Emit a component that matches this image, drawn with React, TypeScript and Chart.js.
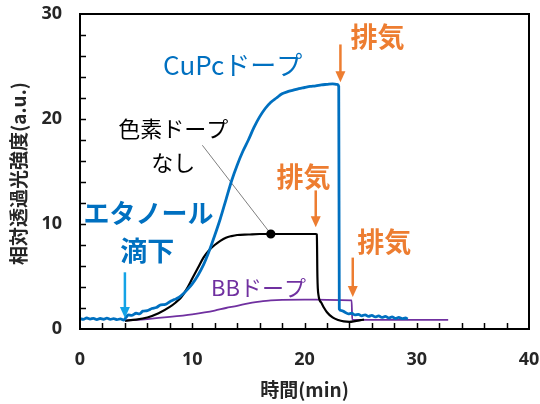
import { useEffect, useRef } from 'react';
import { Chart, registerables } from 'chart.js';

Chart.register(...registerables);

// ---- axis ranges / ticks ----
const xRange = [0, 40];
const yRange = [0, 30];
const xLabelTicks = [0, 10, 20, 30, 40];
const yLabelTicks = [0, 10, 20, 30];
const minorStep = 2;

// ---- series: [time(min), relative transmitted intensity(a.u.)] ----
const cupcSeries: number[][] = [
  [0, 1.0], [0.3, 0.92], [0.6, 1.05], [0.9, 0.95], [1.2, 1.02], [1.5, 0.9], [1.8, 1.0],
  [2.1, 0.93], [2.4, 1.04], [2.7, 0.92], [3.0, 0.98], [3.3, 0.9], [3.6, 0.96], [3.9, 0.85],
  [4.1, 1.1], [4.3, 1.35], [4.6, 1.3], [5.0, 1.5], [5.3, 1.45], [5.6, 1.7], [6.0, 1.75],
  [6.4, 1.95], [6.8, 2.05], [7.2, 2.3], [7.6, 2.35], [8.0, 2.6], [8.4, 2.8], [8.8, 3.0],
  [9.2, 3.35], [9.6, 3.8], [10.0, 4.3], [10.5, 5.1], [11.0, 6.1], [11.5, 7.4], [12.0, 8.9],
  [12.5, 10.5], [13.0, 12.3], [13.5, 14.1], [14.0, 15.6], [14.5, 16.9], [15.0, 18.0],
  [15.5, 19.2], [16.0, 20.2], [16.5, 21.0], [17.0, 21.6], [17.5, 22.0], [18.0, 22.4],
  [18.5, 22.6], [19.0, 22.75], [19.5, 22.9], [20.0, 23.0], [20.5, 23.1], [21.0, 23.15],
  [21.5, 23.25], [22.0, 23.3], [22.5, 23.35], [22.9, 23.3], [23.05, 23.1], [23.1, 1.9],
  [23.3, 1.75], [23.6, 1.6], [23.9, 1.45], [24.2, 1.5], [24.5, 1.35], [24.8, 1.4],
  [25.1, 1.25], [25.4, 1.35], [25.7, 1.2], [26.0, 1.3], [26.3, 1.15], [26.6, 1.25],
  [26.9, 1.1], [27.2, 1.2], [27.5, 1.05], [27.8, 1.15], [28.1, 1.0], [28.4, 1.1],
  [28.7, 0.98], [29.0, 1.05], [29.2, 0.95],
];

const noDyeSeries: number[][] = [
  [4.0, 0.8], [5.0, 0.9], [6.0, 1.1], [7.0, 1.5], [8.0, 2.1], [8.5, 2.5], [9.0, 3.0],
  [9.5, 3.8], [10.0, 4.8], [10.5, 5.8], [11.0, 6.8], [11.5, 7.5], [12.0, 8.0], [12.5, 8.4],
  [13.0, 8.7], [13.5, 8.85], [14.0, 8.95], [15.0, 9.0], [16.0, 9.05], [17.0, 9.05],
  [18.0, 9.05], [19.0, 9.05], [20.0, 9.05], [21.0, 9.05], [21.1, 9.0], [21.15, 5.0],
  [21.25, 3.2], [21.5, 2.5], [21.75, 2.0], [22.0, 1.6], [22.5, 1.1], [23.0, 0.85],
  [23.5, 0.72], [24.0, 0.68], [24.5, 0.75], [25.0, 0.85], [25.3, 0.9],
];
const noDyeMarkerTime = 17.0;

const bbSeries: number[][] = [
  [4.0, 0.8], [6.0, 0.95], [8.0, 1.15], [10.0, 1.4], [12.0, 1.75], [13.0, 2.0], [14.0, 2.2],
  [15.0, 2.45], [16.0, 2.6], [17.0, 2.72], [18.0, 2.78], [20.0, 2.8], [22.0, 2.78],
  [24.2, 2.72], [24.25, 0.9], [26.0, 0.86], [32.8, 0.86],
];

// ---- text ----
const yTitle = '相対透過光強度(a.u.)';
const xTitle = '時間(min)';

const BLUE = '#0070C0';
const LIGHT_BLUE = '#14A3E6';
const ORANGE = '#ED7D31';
const PURPLE = '#7030A0';
const BLACK = '#000000';
const TEXT = '#262626';
const JP = '"Noto Sans CJK JP", "Noto Sans", sans-serif';

// annotation anchors in data coordinates
const labels = [
  { text: 'CuPcドープ', t: 13.6, v: 25.1, color: BLUE, size: 26, weight: 'normal' },
  { text: '色素ドープ', t: 8.3, v: 19.1, color: BLACK, size: 22, weight: 'normal' },
  { text: 'なし', t: 8.3, v: 15.8, color: BLACK, size: 22, weight: 'normal' },
  { text: 'エタノール', t: 6.1, v: 11.0, color: BLUE, size: 26, weight: 'bold' },
  { text: '滴下', t: 6.0, v: 7.5, color: BLUE, size: 27, weight: 'bold' },
  { text: '排気', t: 26.5, v: 27.8, color: ORANGE, size: 27, weight: 'bold' },
  { text: '排気', t: 19.9, v: 14.5, color: ORANGE, size: 27, weight: 'bold' },
  { text: '排気', t: 27.1, v: 8.3, color: ORANGE, size: 27, weight: 'bold' },
  { text: 'BBドープ', t: 15.9, v: 3.9, color: PURPLE, size: 22, weight: 'normal' },
];
const arrows = [
  { t: 4.0, from: 5.4, to: 1.05, color: LIGHT_BLUE },
  { t: 23.2, from: 27.1, to: 23.5, color: ORANGE },
  { t: 21.0, from: 13.2, to: 9.7, color: ORANGE },
  { t: 24.3, from: 6.8, to: 3.05, color: ORANGE },
];
const leader = { t: 10.9, v: 17.5 };

const toPoints = (s: number[][]) => s.map(([x, y]) => ({ x, y }));

const overlayPlugin = {
  id: 'overlay',
  beforeDraw(chart: any) {
    const { ctx } = chart;
    ctx.save();
    ctx.fillStyle = '#ffffff';
    ctx.fillRect(0, 0, chart.width, chart.height);
    ctx.restore();
  },
  beforeDatasetsDraw(chart: any) {
    const { ctx } = chart;
    const xs = chart.scales.x;
    const ys = chart.scales.y;
    ctx.save();
    ctx.strokeStyle = '#7f7f7f';
    ctx.lineWidth = 1;
    ctx.beginPath();
    ctx.moveTo(xs.getPixelForValue(leader.t), ys.getPixelForValue(leader.v));
    ctx.lineTo(xs.getPixelForValue(noDyeMarkerTime), ys.getPixelForValue(9.05));
    ctx.stroke();
    ctx.restore();
  },
  afterDatasetsDraw(chart: any) {
    const { ctx, chartArea: a } = chart;
    const xs = chart.scales.x;
    const ys = chart.scales.y;
    ctx.save();
    // inward tick marks
    ctx.strokeStyle = '#000';
    ctx.lineWidth = 1.5;
    for (let v = yRange[0] + minorStep; v < yRange[1]; v += minorStep) {
      const y = Math.round(ys.getPixelForValue(v)) + 0.5;
      ctx.beginPath();
      ctx.moveTo(a.left, y);
      ctx.lineTo(a.left + 6, y);
      ctx.stroke();
    }
    for (let t = xRange[0] + minorStep; t < xRange[1]; t += minorStep) {
      const x = Math.round(xs.getPixelForValue(t)) + 0.5;
      ctx.beginPath();
      ctx.moveTo(x, a.bottom);
      ctx.lineTo(x, a.bottom - 6);
      ctx.stroke();
    }
    // frame
    ctx.lineWidth = 2;
    ctx.strokeStyle = '#000';
    ctx.strokeRect(a.left, a.top, a.right - a.left, a.bottom - a.top);

    // arrows
    for (const ar of arrows) {
      const x = xs.getPixelForValue(ar.t);
      const y1 = ys.getPixelForValue(ar.from);
      const y2 = ys.getPixelForValue(ar.to);
      ctx.strokeStyle = ar.color;
      ctx.fillStyle = ar.color;
      ctx.lineWidth = 2.5;
      ctx.beginPath();
      ctx.moveTo(x, y1);
      ctx.lineTo(x, y2 - 9);
      ctx.stroke();
      ctx.beginPath();
      ctx.moveTo(x - 5, y2 - 11);
      ctx.lineTo(x + 5, y2 - 11);
      ctx.lineTo(x, y2);
      ctx.closePath();
      ctx.fill();
    }
    // labels
    ctx.textAlign = 'center';
    ctx.textBaseline = 'middle';
    for (const l of labels) {
      ctx.fillStyle = l.color;
      ctx.font = `${l.weight} ${l.size}px ${JP}`;
      ctx.fillText(l.text, xs.getPixelForValue(l.t), ys.getPixelForValue(l.v));
    }
    ctx.restore();
  },
  afterDraw(chart: any) {
    const { ctx, chartArea: a } = chart;
    ctx.save();
    ctx.fillStyle = TEXT;
    ctx.font = `bold 19px ${JP}`;
    ctx.textAlign = 'center';
    ctx.textBaseline = 'middle';
    ctx.fillText(xTitle, (a.left + a.right) / 2, 390);
    ctx.translate(19, (a.top + a.bottom) / 2 + 2);
    ctx.rotate(-Math.PI / 2);
    ctx.fillText(yTitle, 0, 0);
    ctx.restore();
  },
};

export default function App() {
  const canvasRef = useRef<HTMLCanvasElement | null>(null);

  useEffect(() => {
    const canvas = canvasRef.current;
    if (!canvas) return;
    const tickFont = { family: '"Noto Sans", sans-serif', size: 18, weight: 'bold' as const };
    const chart = new Chart(canvas, {
      type: 'line',
      data: {
        datasets: [
          {
            label: 'CuPcドープ',
            data: toPoints(cupcSeries),
            borderColor: BLUE,
            borderWidth: 2.8,
            pointRadius: 0,
            cubicInterpolationMode: 'monotone',
            order: 1,
          },
          {
            label: '色素ドープなし',
            data: toPoints(noDyeSeries),
            borderColor: BLACK,
            borderWidth: 2.2,
            pointRadius: (c: any) => (c.raw && c.raw.x === noDyeMarkerTime ? 3.5 : 0),
            pointBackgroundColor: BLACK,
            pointBorderColor: BLACK,
            cubicInterpolationMode: 'monotone',
            order: 2,
          },
          {
            label: 'BBドープ',
            data: toPoints(bbSeries),
            borderColor: PURPLE,
            borderWidth: 1.8,
            pointRadius: 0,
            cubicInterpolationMode: 'monotone',
            order: 3,
          },
        ],
      },
      options: {
        animation: false,
        responsive: false,
        parsing: false as any,
        layout: { padding: { top: 14, right: 11, left: 0, bottom: 0 } },
        plugins: { legend: { display: false }, tooltip: { enabled: false } },
        scales: {
          x: {
            type: 'linear',
            min: xRange[0],
            max: xRange[1],
            grid: { display: false, drawTicks: false },
            border: { display: false },
            ticks: {
              stepSize: 10,
              padding: 20,
              color: TEXT,
              font: tickFont,
              maxRotation: 0,
              callback: (v: any) => (xLabelTicks.includes(Number(v)) ? String(v) : ''),
            },
            afterFit: (s: any) => {
              s.height = 75;
              s.paddingLeft = 0;
              s.paddingRight = 0;
            },
          },
          y: {
            type: 'linear',
            min: yRange[0],
            max: yRange[1],
            grid: { display: false, drawTicks: false },
            border: { display: false },
            ticks: {
              stepSize: 10,
              padding: 18,
              color: TEXT,
              font: tickFont,
              callback: (v: any) => (yLabelTicks.includes(Number(v)) ? String(v) : ''),
            },
            afterFit: (s: any) => {
              s.width = 80;
              s.paddingTop = 0;
              s.paddingBottom = 0;
            },
          },
        },
      },
      plugins: [overlayPlugin],
    } as any);
    return () => chart.destroy();
  }, []);

  return (
    <div style={{ position: 'absolute', left: 0, top: 0, width: 540, height: 404, background: '#fff' }}>
      <canvas ref={canvasRef} width={540} height={404} style={{ display: 'block' }} />
    </div>
  );
}
